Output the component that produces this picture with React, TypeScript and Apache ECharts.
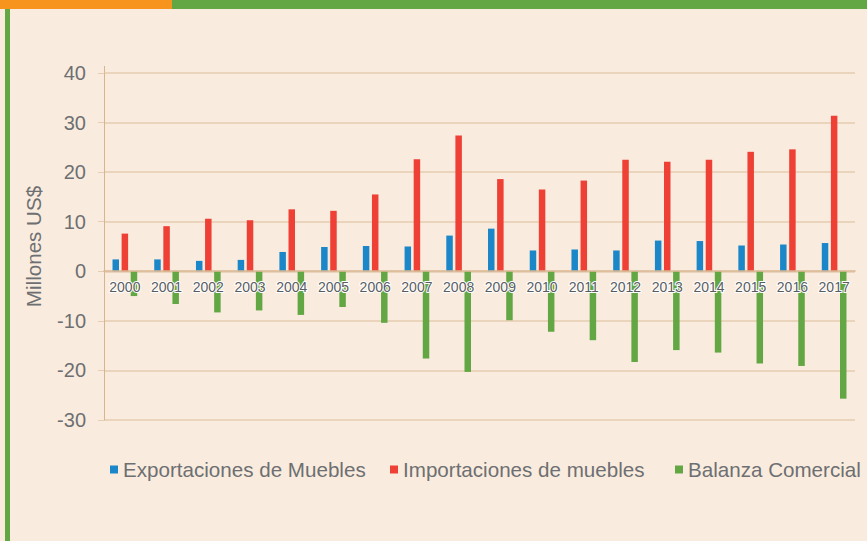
import React, { useEffect, useRef } from "react";
import * as echarts from "echarts";

const years = ["2000","2001","2002","2003","2004","2005","2006","2007","2008","2009","2010","2011","2012","2013","2014","2015","2016","2017"];
const exportaciones = [2.4, 2.4, 2.1, 2.3, 3.9, 4.9, 5.1, 5.0, 7.2, 8.6, 4.2, 4.4, 4.2, 6.2, 6.1, 5.2, 5.4, 5.7];
const importaciones = [7.6, 9.1, 10.6, 10.3, 12.5, 12.2, 15.5, 22.6, 27.4, 18.6, 16.5, 18.3, 22.5, 22.1, 22.5, 24.1, 24.6, 31.4];
const balanza = [-5.0, -6.6, -8.3, -7.9, -8.8, -7.2, -10.4, -17.6, -20.3, -9.9, -12.2, -13.9, -18.3, -15.9, -16.4, -18.6, -19.1, -25.7];
const seriesNames = ["Exportaciones de Muebles", "Importaciones de muebles", "Balanza Comercial"];
const colors = ["#1b87c8", "#ee4035", "#63a744"];

const FONT = "'Liberation Sans', Arial, sans-serif";
const GRAY = "#6e6f72";

export default function App() {
  const ref = useRef<HTMLDivElement>(null);
  useEffect(() => {
    if (!ref.current) return;
    const chart = echarts.init(ref.current, null, { renderer: "svg" });
    const legendLefts = [110, 390, 675];
    chart.setOption({
      animation: false,
      backgroundColor: "#f9ecde",
      textStyle: { fontFamily: FONT },
      graphic: [
        { type: "rect", shape: { x: 0, y: 0, width: 172, height: 9 }, style: { fill: "#f7941e" } },
        { type: "rect", shape: { x: 172, y: 0, width: 695, height: 9 }, style: { fill: "#62a744" } },
        { type: "rect", shape: { x: 5, y: 9, width: 5, height: 532 }, style: { fill: "#62a744" } },
        { type: "line", shape: { x1: 104.5, y1: 66, x2: 104.5, y2: 73 }, style: { stroke: "#d8b591", lineWidth: 1 } },
      ],
      grid: { left: 104, right: 12, top: 73, bottom: 121, containLabel: false },
      legend: seriesNames.map((n, i) => ({
        data: [n],
        left: legendLefts[i],
        top: 459,
        padding: 0,
        icon: "rect",
        itemWidth: 8,
        itemHeight: 8,
        textStyle: { fontSize: 20.6, color: GRAY, fontFamily: FONT },
        selectedMode: false,
      })),
      xAxis: {
        type: "category",
        data: years,
        z: 10,
        offset: -149,
        axisLine: { onZero: false, lineStyle: { color: "#d9b793", width: 1.5 } },
        axisTick: { show: false },
        axisLabel: {
          fontSize: 14,
          color: "#5b5c5f",
          margin: 9,
          interval: 0,
          fontFamily: FONT,
          textBorderColor: "#ffffff",
          textBorderWidth: 2,
        },
      },
      yAxis: {
        type: "value",
        min: -30,
        max: 40,
        interval: 10,
        name: "Millones US$",
        nameLocation: "middle",
        nameGap: 60,
        nameRotate: 90,
        nameTextStyle: { fontSize: 20.6, color: GRAY, fontFamily: FONT },
        axisLine: { show: true, lineStyle: { color: "#d8b591", width: 1 } },
        axisTick: { show: true, length: 6, lineStyle: { color: "#e6ccb0" } },
        axisLabel: { fontSize: 20, color: GRAY, margin: 18, fontFamily: FONT },
        splitLine: { lineStyle: { color: "#e6ccb0", width: 1.5 } },
      },
      series: [exportaciones, importaciones, balanza].map((d, i) => ({
        name: seriesNames[i],
        type: "bar",
        data: d,
        barWidth: 6.5,
        barGap: "40%",
        itemStyle: { color: colors[i] },
      })),
    });
    return () => chart.dispose();
  }, []);
  return (
    <div
      ref={ref}
      style={{ position: "fixed", left: 0, top: 0, width: 867, height: 541 }}
    />
  );
}
